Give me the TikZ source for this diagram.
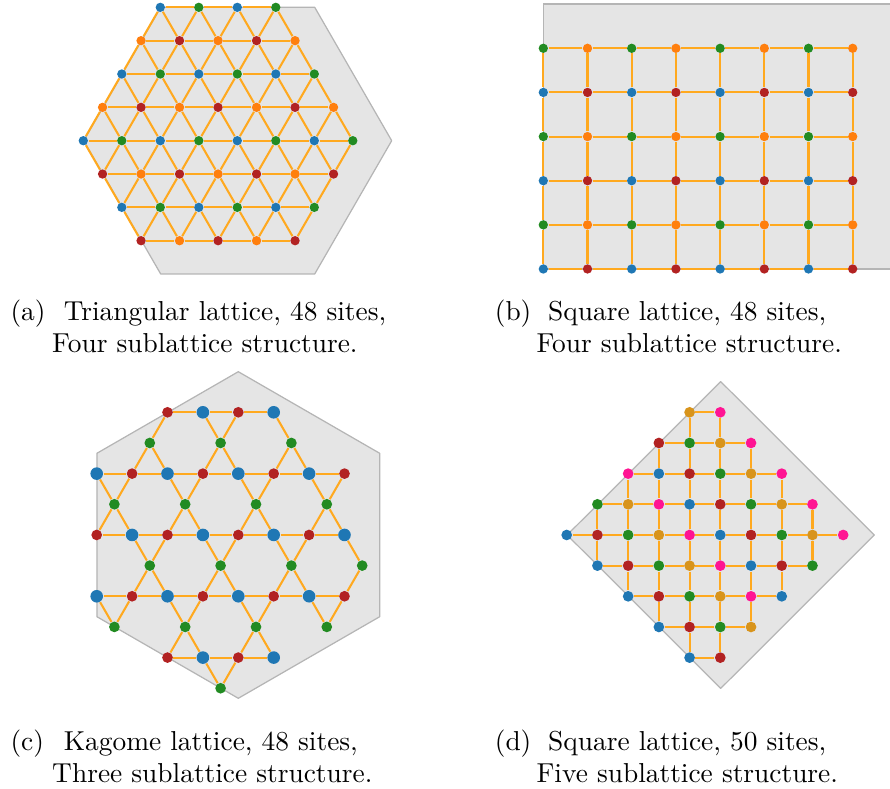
\documentclass[tikz,border=0pt]{standalone}
\usetikzlibrary{backgrounds}
\definecolor{cB}{HTML}{1F77B4}
\definecolor{cR}{HTML}{B22222}
\definecolor{cG}{HTML}{228B22}
\definecolor{cO}{HTML}{FF7F0E}
\definecolor{cY}{HTML}{D8941C}
\definecolor{cP}{HTML}{FF1493}
\definecolor{bondcol}{HTML}{FFA91F}
\definecolor{cellfill}{HTML}{E5E5E5}
\definecolor{celledge}{HTML}{B5B5B5}
\tikzset{
  site/.style={circle,inner sep=0pt,minimum size=3.4pt},
  bigsite/.style={circle,inner sep=0pt,minimum size=4.6pt},
  midsite/.style={circle,inner sep=0pt,minimum size=3.9pt},
  bond/.style={draw=bondcol,line width=0.75pt},
  cell/.style={fill=cellfill,draw=celledge,line width=0.45pt,line join=round},
  captext/.style={anchor=base west,inner sep=0pt}
}
\begin{document}
\begin{tikzpicture}[x=0.365pt,y=-0.365pt]
\useasboundingbox (0,0) rectangle (890,789);

% (a) triangular lattice
\foreach \r/\st/\cl in {0/4/{cB,cG,cB,cG},1/3/{cO,cR,cO,cR,cO},2/2/{cB,cG,cB,cG,cB,cG},
    3/1/{cO,cR,cO,cR,cO,cR,cO},4/0/{cB,cG,cB,cG,cB,cG,cB,cG},5/1/{cR,cO,cR,cO,cR,cO,cR},
    6/2/{cB,cG,cB,cG,cB,cG},7/3/{cR,cO,cR,cO,cR}}
  \foreach \cc [count=\i from 0] in \cl
    \node[site,fill=\cc] (a-\r-\i) at ({83.3+(\st+2*\i)*19.25},{140.7+(\r-4)*33.34}) {};
\begin{scope}[on background layer]
  \draw[cell] (160.7,7.3) -- (314.7,7.3) -- (391.7,140.7) -- (314.7,274)
    -- (160.7,274) -- (83.7,140.7) -- cycle;
  \foreach \r/\nn in {0/3,1/4,2/5,3/6,4/7,5/6,6/5,7/4}
    \foreach \i in {1,...,\nn}{
      \pgfmathtruncatemacro{\ip}{\i-1}
      \draw[bond] (a-\r-\ip) -- (a-\r-\i);
    }
  \foreach \r in {0,...,3}{
    \pgfmathtruncatemacro{\rn}{\r+1}
    \pgfmathtruncatemacro{\nn}{\r+3}
    \foreach \i in {0,...,\nn}{
      \pgfmathtruncatemacro{\ii}{\i+1}
      \draw[bond] (a-\r-\i) -- (a-\rn-\i) (a-\r-\i) -- (a-\rn-\ii);
    }
  }
  \foreach \r in {4,5,6}{
    \pgfmathtruncatemacro{\rn}{\r+1}
    \pgfmathtruncatemacro{\nn}{10-\r}
    \foreach \i in {0,...,\nn}{
      \pgfmathtruncatemacro{\ii}{\i+1}
      \draw[bond] (a-\rn-\i) -- (a-\r-\i) (a-\rn-\i) -- (a-\r-\ii);
    }
  }
\end{scope}

% (b) square lattice, 48 sites
\foreach \r/\ca/\cb in {0/cG/cO,1/cB/cR,2/cG/cO,3/cB/cR,4/cG/cO,5/cB/cR}
  \foreach \c in {0,2,4,6}{
    \pgfmathtruncatemacro{\cn}{\c+1}
    \node[site,fill=\ca] (b-\r-\c) at ({543.3+\c*44.2},{48.3+\r*44.14}) {};
    \node[site,fill=\cb] (b-\r-\cn) at ({543.3+\cn*44.2},{48.3+\r*44.14}) {};
  }
\begin{scope}[on background layer]
  \fill[cellfill] (543.3,4) rectangle (890,269);
  \draw[celledge,line width=0.45pt] (890,4) -- (543.3,4) -- (543.3,269) -- (890,269);
  \foreach \r in {0,...,5}
    \foreach \c in {1,...,7}{
      \pgfmathtruncatemacro{\cp}{\c-1}
      \draw[bond] (b-\r-\cp) -- (b-\r-\c);
    }
  \foreach \r in {1,...,5}{
    \pgfmathtruncatemacro{\rp}{\r-1}
    \foreach \c in {0,...,7}
      \draw[bond] (b-\rp-\c) -- (b-\r-\c);
  }
\end{scope}

% (c) kagome lattice
\foreach \k/\h in {0/6,0/10,2/0,2/4,2/8,2/12,4/2,4/6,4/10,4/14,6/0,6/4,6/8,6/12,8/6,8/10}
  \node[bigsite,fill=cB] (c-\k-\h) at ({96.7+\h*17.7},{412.3+\k*30.66}) {};
\foreach \k/\h in {0/4,0/8,2/2,2/6,2/10,2/14,4/0,4/4,4/8,4/12,6/2,6/6,6/10,6/14,8/4,8/8}
  \node[midsite,fill=cR] (c-\k-\h) at ({96.7+\h*17.7},{412.3+\k*30.66}) {};
\foreach \k/\h in {1/3,1/7,1/11,3/1,3/5,3/9,3/13,5/3,5/7,5/11,5/15,7/1,7/5,7/9,7/13,9/7}
  \node[midsite,fill=cG] (c-\k-\h) at ({96.7+\h*17.7},{412.3+\k*30.66}) {};
\begin{scope}[on background layer]
  \draw[cell] (238.3,371.7) -- (379.7,453.3) -- (379.7,616.7) -- (238.3,698.3)
    -- (96.9,616.7) -- (96.9,453.3) -- cycle;
  \foreach \k/\ha/\hb in {0/4/10,2/0/14,4/0/14,6/0/14,8/4/10}{
    \pgfmathtruncatemacro{\hc}{\ha+2}
    \pgfmathtruncatemacro{\hd}{\ha+4}
    \foreach \h in {\hc,\hd,...,\hb}{
      \pgfmathtruncatemacro{\hp}{\h-2}
      \draw[bond] (c-\k-\hp) -- (c-\k-\h);
    }
  }
  \foreach \g/\nb in {1-3/{0-4,2-2,2-4},1-7/{0-6,0-8,2-6,2-8},1-11/{0-10,2-10,2-12},
      3-1/{2-0,2-2,4-0,4-2},3-5/{2-4,2-6,4-4,4-6},3-9/{2-8,2-10,4-8,4-10},
      3-13/{2-12,2-14,4-12,4-14},5-3/{4-2,4-4,6-2,6-4},5-7/{4-6,4-8,6-6,6-8},
      5-11/{4-10,4-12,6-10,6-12},5-15/{4-14,6-14},7-1/{6-0,6-2},
      7-5/{6-4,6-6,8-4,8-6},7-9/{6-8,6-10,8-8,8-10},7-13/{6-12,6-14},9-7/{8-6,8-8}}
    \foreach \m in \nb
      \draw[bond] (c-\g) -- (c-\m);
\end{scope}

% (d) square lattice, 50 sites
\foreach \r in {0,...,8}{
  \pgfmathtruncatemacro{\ca}{abs(\r-4)}
  \pgfmathtruncatemacro{\cb}{9-abs(\r-4)}
  \foreach \c in {\ca,...,\cb}{
    \pgfmathtruncatemacro{\ci}{mod(\c+9-\r,5)}
    \ifcase\ci \def\dcol{cB}\or\def\dcol{cR}\or\def\dcol{cG}\or\def\dcol{cY}\or\def\dcol{cP}\fi
    \node[midsite,fill=\dcol] (d-\r-\c) at ({566.7+\c*30.72},{412.3+\r*30.67}) {};
  }
}
\begin{scope}[on background layer]
  \draw[cell] (567.1,535) -- (720.7,381.6) -- (874.3,535) -- (720.7,688.4) -- cycle;
  \foreach \r in {0,...,8}{
    \pgfmathtruncatemacro{\ca}{abs(\r-4)+1}
    \pgfmathtruncatemacro{\cb}{9-abs(\r-4)}
    \foreach \c in {\ca,...,\cb}{
      \pgfmathtruncatemacro{\cp}{\c-1}
      \draw[bond] (d-\r-\cp) -- (d-\r-\c);
    }
  }
  \foreach \r in {0,...,7}{
    \pgfmathtruncatemacro{\rn}{\r+1}
    \pgfmathtruncatemacro{\vlo}{max(abs(\r-4),abs(\r-3))}
    \pgfmathtruncatemacro{\vhi}{min(9-abs(\r-4),9-abs(\r-3))}
    \foreach \c in {\vlo,...,\vhi}
      \draw[bond] (d-\r-\c) -- (d-\rn-\c);
  }
\end{scope}

% captions
\node[captext] (lab-a) at (10,320.7) {(a)};
\node[captext] (cap-a1) at (63.3,320.7) {Triangular lattice, 48 sites,};
\node[captext] (cap-a2) at (51.7,352.5) {Four sublattice structure.};
\node[captext] (lab-b) at (494.3,320.7) {(b)};
\node[captext] (cap-b1) at (547.6,320.7) {Square lattice, 48 sites,};
\node[captext] (cap-b2) at (536,352.5) {Four sublattice structure.};
\node[captext] (lab-c) at (10,750.7) {(c)};
\node[captext] (cap-c1) at (63.3,750.7) {Kagome lattice, 48 sites,};
\node[captext] (cap-c2) at (51.7,782.5) {Three sublattice structure.};
\node[captext] (lab-d) at (494.3,750.7) {(d)};
\node[captext] (cap-d1) at (547.6,750.7) {Square lattice, 50 sites,};
\node[captext] (cap-d2) at (536,782.5) {Five sublattice structure.};
\end{tikzpicture}
\end{document}
